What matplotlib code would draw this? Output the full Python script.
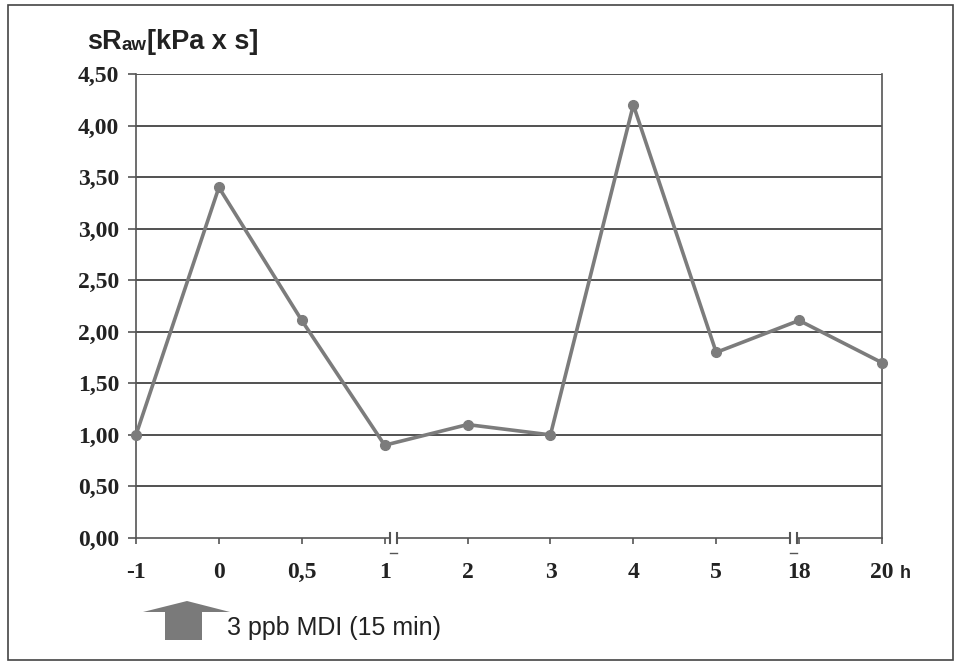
import matplotlib
matplotlib.use("Agg")
import matplotlib.pyplot as plt
from matplotlib.patches import Polygon, Rectangle
from matplotlib.transforms import blended_transform_factory
import numpy as np

categories = ["-1", "0", "0,5", "1", "2", "3", "4", "5", "18", "20"]
values = [1.00, 3.40, 2.11, 0.90, 1.10, 1.00, 4.20, 1.80, 2.11, 1.70]
yticks = [0, 0.5, 1.0, 1.5, 2.0, 2.5, 3.0, 3.5, 4.0, 4.5]
ytick_labels = ["0,00", "0,50", "1,00", "1,50", "2,00", "2,50", "3,00", "3,50", "4,00", "4,50"]
break_positions = [3.11, 7.93]  # axis breaks after "1" and before "18"

W, H = 962, 667
fig = plt.figure(figsize=(W/100, H/100), dpi=100)
ax = fig.add_axes([136/W, 129/H, (882-136)/W, (538-74)/H])

x = np.arange(len(categories))
ax.set_xlim(0, len(categories) - 1)
ax.set_ylim(0, 4.5)
for yv in yticks[1:]:
    ax.axhline(yv, color="#333333", lw=1.2, zorder=1)

ax.plot(x, values, color="#7c7c7c", lw=2.6, marker="o", ms=7,
        markerfacecolor="#7c7c7c", markeredgecolor="#7c7c7c", zorder=3, clip_on=False)

ax.spines["top"].set_visible(False)
for s in ["left", "right", "bottom"]:
    ax.spines[s].set_color("#555555")
    ax.spines[s].set_linewidth(1.2)

ax.set_yticks(yticks)
ax.set_yticklabels(ytick_labels, fontfamily="Liberation Serif", fontweight="bold", fontsize=17,
                   color="#222222")
ax.tick_params(axis="y", length=6, width=1.2, color="#555555", pad=6)
ax.set_xticks(x)
ax.set_xticklabels([])
ax.tick_params(axis="x", length=4, width=1.2, color="#555555")

trans = blended_transform_factory(ax.transData, ax.transAxes)
base_y = (538 - 578) / (538 - 74)
for xi, lab in zip(x, categories):
    ax.text(xi, base_y, lab, transform=trans, ha="center", va="baseline",
            fontfamily="Liberation Serif", fontweight="bold", fontsize=17, color="#222222")
ax.text(900/W, 1 - 578/H, "h", transform=fig.transFigure, ha="left", va="baseline",
        fontfamily="Liberation Sans", fontweight="bold", fontsize=13, color="#222222")

# axis breaks
for xm in break_positions:
    ax.add_patch(Rectangle((xm - 0.04, -0.04), 0.08, 0.08, transform=ax.transData,
                           facecolor="white", edgecolor="none", clip_on=False, zorder=4))
    for dx in (-0.04, 0.04):
        ax.plot([xm + dx, xm + dx], [-0.05, 0.05], color="#555555", lw=1.5,
                clip_on=False, zorder=5)
    ax.plot([xm - 0.04, xm + 0.04], [-0.15, -0.15], color="#555555", lw=1.0,
            clip_on=False, zorder=5)

# y-axis title
fs_t = 19.5
fig.text(87/W, 1 - 42/H, "sR", fontfamily="Liberation Sans", fontweight="bold",
         fontsize=fs_t, va="center", ha="left", color="#222222")
fig.text(122/W, 1 - 46/H, "aw", fontfamily="Liberation Sans", fontweight="bold",
         fontsize=13.5, va="center", ha="left", color="#222222")
fig.text(147/W, 1 - 42/H, "[kPa x s]", fontfamily="Liberation Sans", fontweight="bold",
         fontsize=fs_t, va="center", ha="left", color="#222222")

# block arrow annotation
pts_px = [(165, 640), (202, 640), (202, 612), (230, 612), (187, 601), (143, 612), (165, 612)]
arrow = Polygon([(px/W, 1 - py/H) for px, py in pts_px], closed=True,
                transform=fig.transFigure, facecolor="#7a7a7a", edgecolor="none")
fig.add_artist(arrow)
fig.text(227/W, 1 - 628/H, "3 ppb MDI (15 min)", fontfamily="Liberation Sans",
         fontsize=18, va="center", ha="left", color="#222222")

# outer frame
frame = Rectangle((8/W, 7/H), 945/W, 655/H, transform=fig.transFigure,
                  facecolor="none", edgecolor="#444444", lw=1.2)
fig.add_artist(frame)

fig.savefig("out.png", dpi=100)
